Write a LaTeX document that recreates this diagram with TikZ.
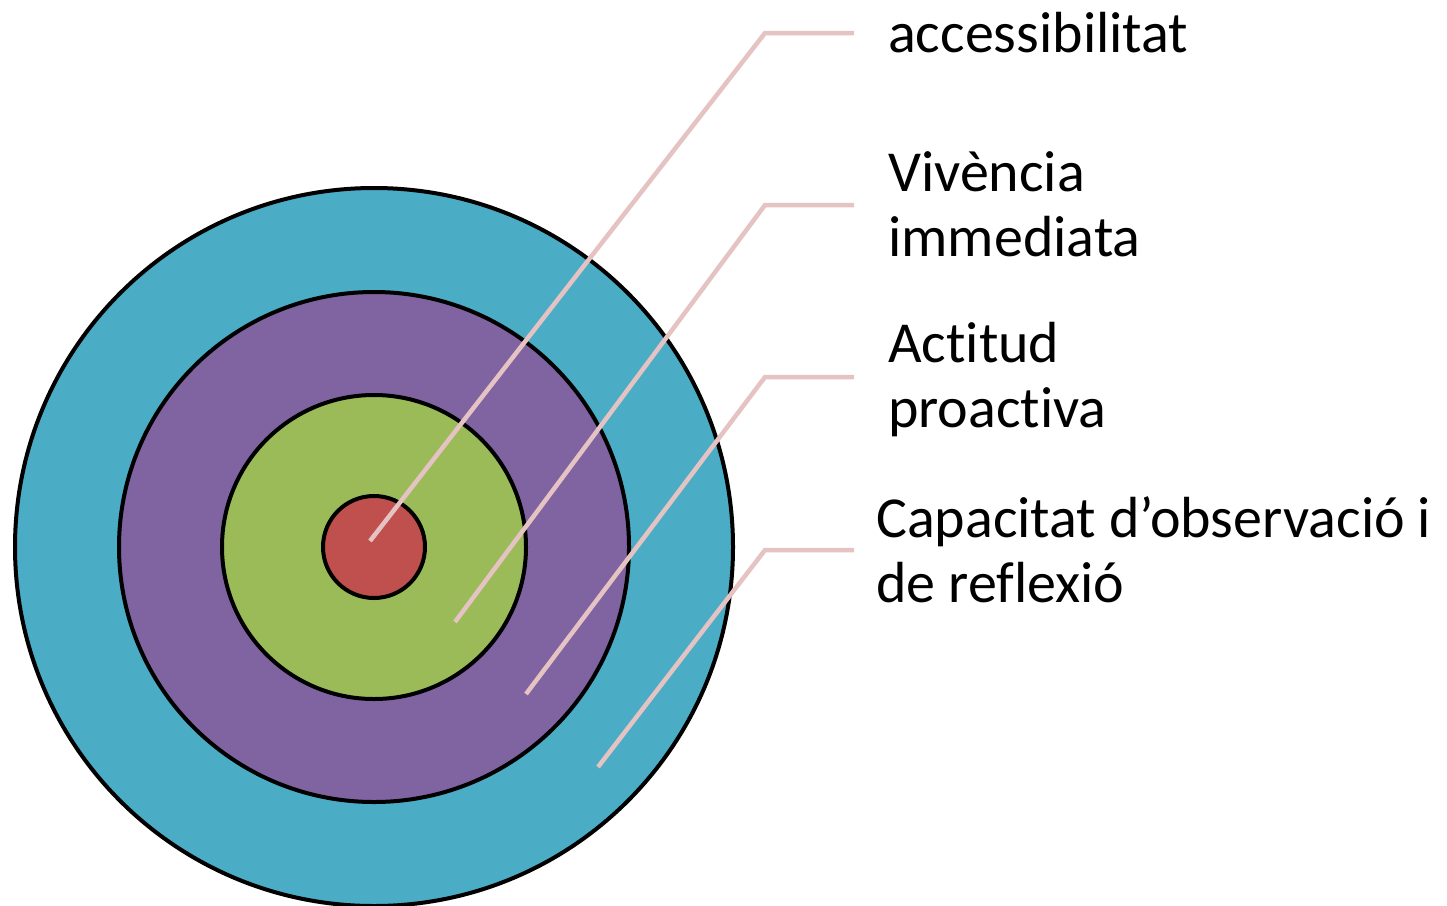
\documentclass[tikz,border=0pt]{standalone}
\usepackage{fontspec}
\setmainfont{Carlito}[Ligatures=NoCommon]
\definecolor{cteal}{HTML}{4BACC6}
\definecolor{cpurple}{HTML}{8064A2}
\definecolor{cgreen}{HTML}{9BBB59}
\definecolor{cred}{HTML}{C0504D}
\definecolor{cline}{HTML}{E6C3C3}
\begin{document}
\begin{tikzpicture}[x=1pt,y=-1pt,
  ring/.style={draw=black,line width=4pt},
  leader/.style={draw=cline,line width=4.5pt},
  lbl/.style={anchor=base west,inner sep=0pt,align=left,font=\fontsize{58}{65}\selectfont}]
\useasboundingbox (0,0) rectangle (1447,905);
\fill[white] (0,0) rectangle (1447,905);
\path[ring,fill=cteal] (374,547) circle[radius=359];
\path[ring,fill=cpurple] (374,547) circle[radius=255];
\path[ring,fill=cgreen] (374,547) circle[radius=152];
\path[ring,fill=cred] (374,547) circle[radius=51];
\node[lbl] (l1) at (888,52) {accessibilitat};
\node[lbl] (l2) at (888,256) {Vivència\\immediata};
\node[lbl] (l3) at (888,427) {Actitud\\proactiva};
\node[lbl] (l4) at (876,602) {Capacitat d’observació i\\de reflexió};
\coordinate (s1) at (370,541);
\coordinate (s2) at (455,622);
\coordinate (s3) at (526,694);
\coordinate (s4) at (598,767);
\coordinate (e1) at (854,33);
\coordinate (e2) at (854,205);
\coordinate (e3) at (854,377);
\coordinate (e4) at (854,550);
\draw[leader] (s1) -- (765,33) -- (e1);
\draw[leader] (s2) -- (765,205) -- (e2);
\draw[leader] (s3) -- (765,377) -- (e3);
\draw[leader] (s4) -- (765,550) -- (e4);
\end{tikzpicture}
\end{document}
